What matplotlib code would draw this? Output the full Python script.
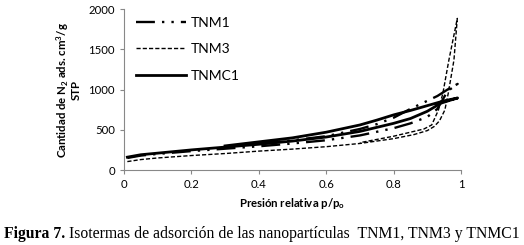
import matplotlib
matplotlib.use("Agg")
import matplotlib.pyplot as plt

# TNM1 (adsorption then desorption)
tnm1_x = [0.01, 0.05, 0.1, 0.2, 0.3, 0.4, 0.5, 0.6, 0.7, 0.8, 0.85, 0.9, 0.93, 0.96, 0.99,
          0.96, 0.93, 0.9, 0.87, 0.85, 0.8, 0.75, 0.7, 0.6, 0.5, 0.4]
tnm1_y = [150, 180, 200, 235, 265, 295, 330, 370, 430, 520, 580, 660, 760, 980, 1070,
          1000, 920, 860, 800, 760, 650, 570, 510, 420, 370, 330]

# TNM3
tnm3_x = [0.01, 0.05, 0.1, 0.2, 0.3, 0.4, 0.5, 0.6, 0.7, 0.8, 0.86, 0.9, 0.92, 0.936, 0.952, 0.962, 0.979, 0.989,
          0.964, 0.946, 0.933, 0.913, 0.89, 0.86, 0.8, 0.75, 0.7]
tnm3_y = [105, 130, 150, 180, 205, 235, 260, 290, 330, 390, 440, 490, 540, 610, 745, 950, 1366, 1884,
          1366, 950, 745, 560, 510, 480, 420, 380, 340]

# TNMC1
tnmc1_x = [0.01, 0.05, 0.1, 0.2, 0.3, 0.4, 0.5, 0.6, 0.7, 0.8, 0.85, 0.9, 0.94, 0.97, 0.99,
           0.95, 0.9, 0.85, 0.8, 0.75, 0.7, 0.6, 0.5, 0.4, 0.3]
tnmc1_y = [160, 190, 210, 250, 285, 320, 360, 410, 480, 580, 640, 730, 830, 870, 895,
           860, 800, 740, 685, 620, 560, 470, 400, 350, 300]

x_ticks = [0, 0.2, 0.4, 0.6, 0.8, 1]
x_labels = ["0", "0.2", "0.4", "0.6", "0.8", "1"]
y_ticks = [0, 500, 1000, 1500, 2000]

plt.rcParams['font.family'] = ['Lato', 'DejaVu Sans']

fig = plt.figure(figsize=(5.24, 2.45), dpi=100)
ax = fig.add_axes([0.2366, 0.306, 0.6432, 0.657])

ax.plot(tnm1_x, tnm1_y, color='black', lw=1.7, dashes=(8, 3, 1, 3, 1, 3), label='TNM1')
ax.plot(tnm3_x, tnm3_y, color='black', lw=1.0, dashes=(3, 1.5), label='TNM3')
ax.plot(tnmc1_x, tnmc1_y, color='black', lw=2.0, label='TNMC1')

ax.set_xlim(0, 1)
ax.set_ylim(0, 2000)
ax.set_xticks(x_ticks)
ax.set_xticklabels(x_labels)
ax.set_yticks(y_ticks)
for s in ['top', 'right']:
    ax.spines[s].set_visible(False)
for s in ['left', 'bottom']:
    ax.spines[s].set_color('#888888')
    ax.spines[s].set_linewidth(0.8)
ax.tick_params(axis='both', colors='#888888', labelcolor='black', labelsize=8.2,
               length=3, width=0.8, direction='out')

ax.set_xlabel('Presión relativa p/p$_\\mathregular{o}$', fontsize=8.2, fontweight='bold', labelpad=4)
ax.set_ylabel('Cantidad de N$_\\mathregular{2}$ ads. cm$^\\mathregular{3}$/g\nSTP',
              fontsize=8.2, fontweight='bold', labelpad=5, linespacing=0.9)

leg = ax.legend(loc='upper left', bbox_to_anchor=(0.0, 1.03), frameon=False, fontsize=10,
                handlelength=3.6, labelspacing=1.05, handletextpad=0.3, borderaxespad=0.5)

t1 = fig.text(0.008, 0.03, 'Figura 7.', family='Liberation Serif', fontweight='bold', fontsize=11.3)
fig.canvas.draw()
bb = t1.get_window_extent(renderer=fig.canvas.get_renderer())
x_next = bb.x1 / fig.bbox.width + 0.006
fig.text(x_next, 0.03, 'Isotermas de adsorción de las nanopartículas  TNM1, TNM3 y TNMC1',
         family='Liberation Serif', fontsize=11.3)

fig.savefig('out.png', dpi=100)
